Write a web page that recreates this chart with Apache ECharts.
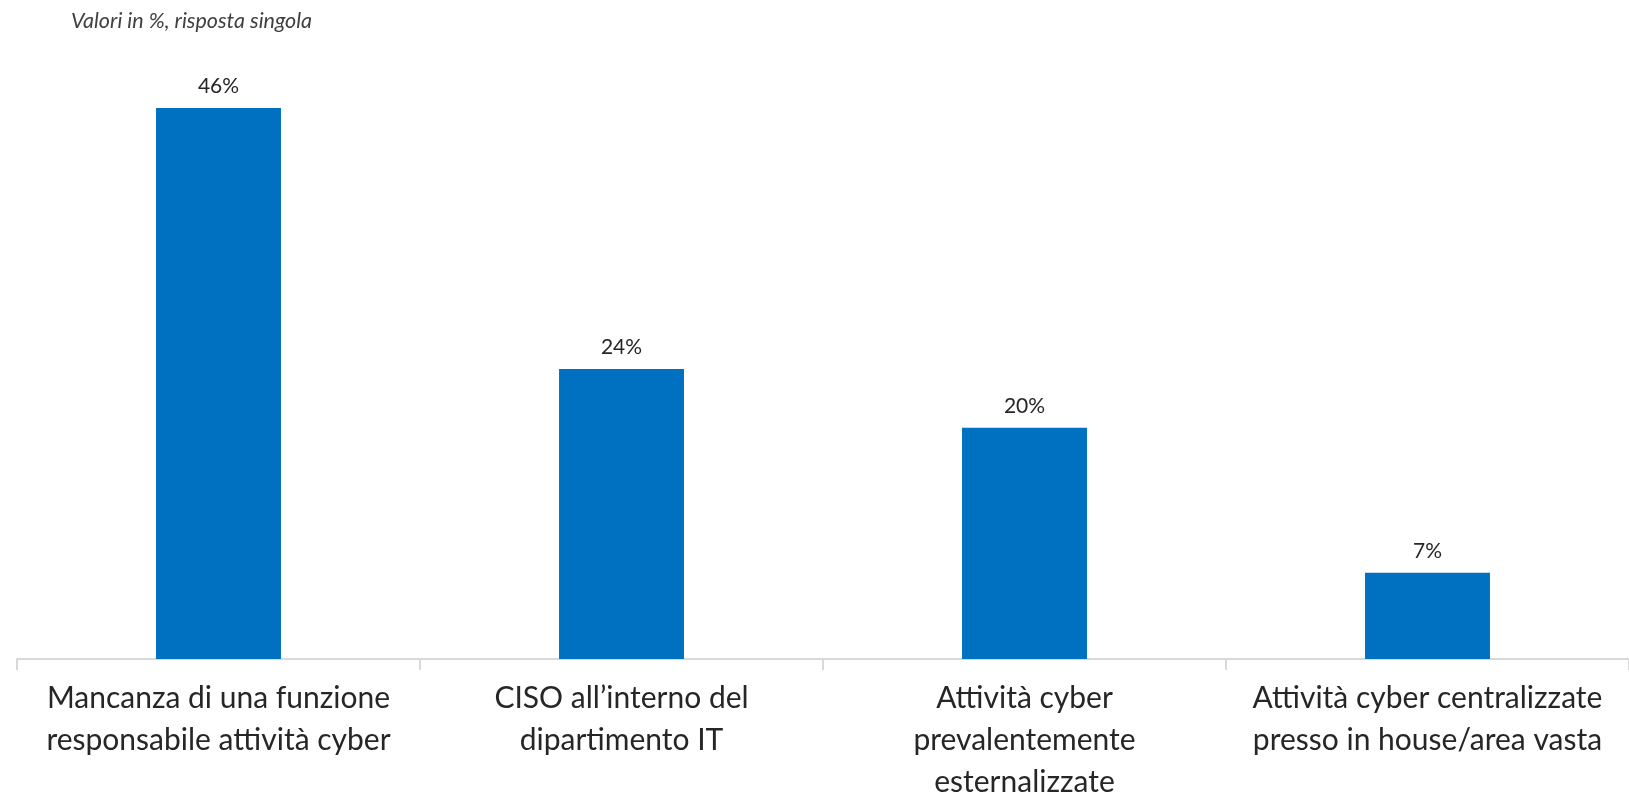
<!DOCTYPE html>
<html>
<head>
<meta charset="utf-8">
<script src="https://cdn.jsdelivr.net/npm/echarts@6/dist/echarts.min.js"></script>
<style>
  html, body { margin: 0; padding: 0; background: #ffffff; }
  #chart { width: 1629px; height: 803px; }
</style>
</head>
<body>
<div id="chart"></div>
<script>
const titleText = 'Valori in %, risposta singola';
const categories = [
  'Mancanza di una funzione\nresponsabile attività cyber',
  'CISO all\u2019interno del\ndipartimento IT',
  'Attività cyber\nprevalentemente\nesternalizzate',
  'Attività cyber centralizzate\npresso in house/area vasta'
];
const values = [46.0, 24.2, 19.3, 7.2];
const valueLabels = ['46%', '24%', '20%', '7%'];

const chart = echarts.init(document.getElementById('chart'));
chart.setOption({
  animation: false,
  backgroundColor: '#ffffff',
  title: {
    text: titleText,
    left: 66,
    top: 5,
    textStyle: {
      fontFamily: 'Lato',
      fontStyle: 'italic',
      fontWeight: 'normal',
      fontSize: 21.5,
      color: '#404040'
    }
  },
  grid: { left: 17, right: -15, top: 60, bottom: 135 },
  xAxis: {
    type: 'category',
    data: categories,
    axisLine: { show: true, lineStyle: { color: '#d9d9d9', width: 2 } },
    axisTick: { show: true, length: 11, lineStyle: { color: '#d9d9d9', width: 2 } },
    axisLabel: {
      interval: 0,
      margin: 18,
      fontFamily: 'Lato',
      fontSize: 30,
      lineHeight: 42,
      color: '#262626',
      align: 'center'
    }
  },
  yAxis: {
    type: 'value',
    min: 0,
    max: 50,
    show: false,
    splitLine: { show: false }
  },
  series: [{
    type: 'bar',
    data: values,
    barWidth: '31%',
    itemStyle: { color: '#0070c0' },
    label: {
      show: true,
      position: 'top',
      distance: 11,
      fontFamily: 'Lato',
      fontSize: 21,
      color: '#262626',
      formatter: function (p) { return valueLabels[p.dataIndex]; }
    }
  }]
});
</script>
</body>
</html>
